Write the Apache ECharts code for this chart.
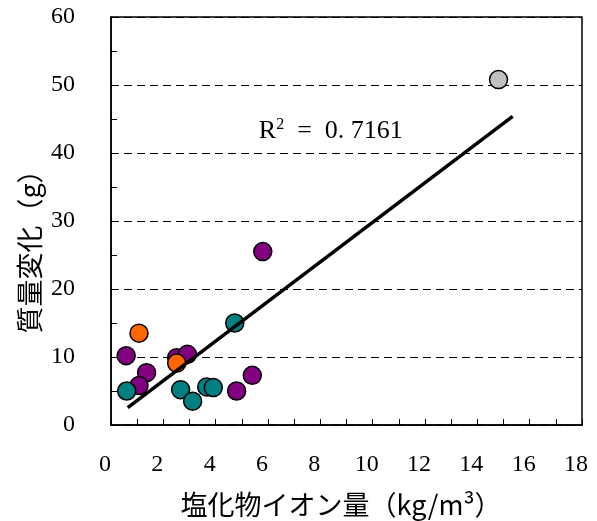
<!DOCTYPE html>
<html><head><meta charset="utf-8">
<script src="https://cdn.jsdelivr.net/npm/echarts@6/dist/echarts.min.js"></script>
<style>html,body{margin:0;padding:0;background:#fff}#c{width:597px;height:521px}</style>
</head><body><div id="c"></div>
<script>
// Data
const purpleX = [0.58, 2.51, 2.92, 1.36, 1.07, 4.80, 5.40, 5.80];
const purpleY = [10.2, 9.9, 10.4, 7.7, 5.8, 5.0, 7.3, 25.5];
const tealX = [0.60, 2.66, 3.12, 3.66, 3.91, 4.73];
const tealY = [5.0, 5.2, 3.5, 5.6, 5.5, 15.0];
const orangeX = [1.07, 2.51];
const orangeY = [13.5, 9.1];
const grayX = [14.81];
const grayY = [50.8];
const trendX = [0.64, 15.35];
const trendY = [2.54, 45.4];
const xTicks = [0, 2, 4, 6, 8, 10, 12, 14, 16, 18];
const yTicks = [0, 10, 20, 30, 40, 50, 60];
const r2Label = 'R² = 0.7161';
const xName = '塩化物イオン量（kg/m³）';
const yName = '質量変化（g）';

const zip = (a, b) => a.map((v, i) => [v, b[i]]);
const serif = '"Liberation Serif", "DejaVu Serif", serif';
const cjk = '"Noto Sans CJK JP", "Noto Sans", sans-serif';

function dotSeries(x, y, color, z) {
  return {
    type: 'scatter', data: zip(x, y), symbol: 'circle', symbolSize: 18, z: z,
    itemStyle: { color: color, borderColor: '#000', borderWidth: 1.5, opacity: 1 },
    emphasis: { disabled: true }
  };
}

const chart = echarts.init(document.getElementById('c'), null, { renderer: 'canvas' });
chart.setOption({
  animation: false,
  backgroundColor: '#fff',
  grid: { left: 111, right: 15, top: 17, bottom: 96, outerBoundsMode: 'none', containLabel: false,
          show: true, borderColor: '#000', borderWidth: 1.5, backgroundColor: 'transparent' },
  xAxis: {
    type: 'value', min: xTicks[0], max: xTicks[xTicks.length - 1], interval: 2,
    axisLine: { show: true, onZero: false, lineStyle: { color: '#000', width: 1.5 } },
    axisTick: { show: true, inside: true, length: 6, lineStyle: { color: '#000', width: 1 } },
    minorTick: { show: true, splitNumber: 2, length: 6, lineStyle: { color: '#000', width: 1 } },
    axisLabel: { margin: 28, color: '#000', fontFamily: serif, fontSize: 24, padding: [0, 12, 0, 0] },
    splitLine: { show: false },
    name: xName, nameLocation: 'middle', nameGap: 66,
    nameTextStyle: { fontFamily: cjk, fontSize: 27, color: '#000', padding: [0, 11, 0, 0] }
  },
  yAxis: {
    type: 'value', min: yTicks[0], max: yTicks[yTicks.length - 1], interval: 10,
    axisLine: { show: true, onZero: false, lineStyle: { color: '#000', width: 1.5 } },
    axisTick: { show: true, inside: true, length: 6, lineStyle: { color: '#000', width: 1 } },
    minorTick: { show: true, splitNumber: 2, length: 6, lineStyle: { color: '#000', width: 1 } },
    axisLabel: { margin: 36, color: '#000', fontFamily: serif, fontSize: 24 },
    splitLine: { show: true, lineStyle: { color: '#000', width: 1, type: [8, 5] } }
  },
  graphic: [
    {
      type: 'text', x: 30, y: 245, rotation: Math.PI / 2,
      style: { text: yName, fontFamily: cjk, fontSize: 27, fill: '#000', align: 'center', verticalAlign: 'middle' }
    }
  ],
  series: [
    dotSeries(purpleX, purpleY, '#800080', 3),
    dotSeries(tealX, tealY, '#008080', 4),
    dotSeries(orangeX, orangeY, '#FF6600', 5),
    dotSeries(grayX, grayY, '#C0C0C0', 5),
    {
      type: 'line', data: zip(trendX, trendY), symbol: 'none', z: 10,
      lineStyle: { color: '#000', width: 3.5 }, emphasis: { disabled: true },
      markPoint: {
        symbol: 'rect', symbolSize: 0,
        data: [{ coord: [8.4, 43.2], value: r2Label }],
        label: {
          show: true, position: 'inside', formatter: 'R{s|2}  =  0. 7161',
          color: '#000', fontFamily: serif, fontSize: 26,
          rich: { s: { fontSize: 16, verticalAlign: 'top', padding: [0, 0, 12, 0], fontFamily: serif, color: '#000' } }
        }
      }
    }
  ]
});
</script></body></html>
